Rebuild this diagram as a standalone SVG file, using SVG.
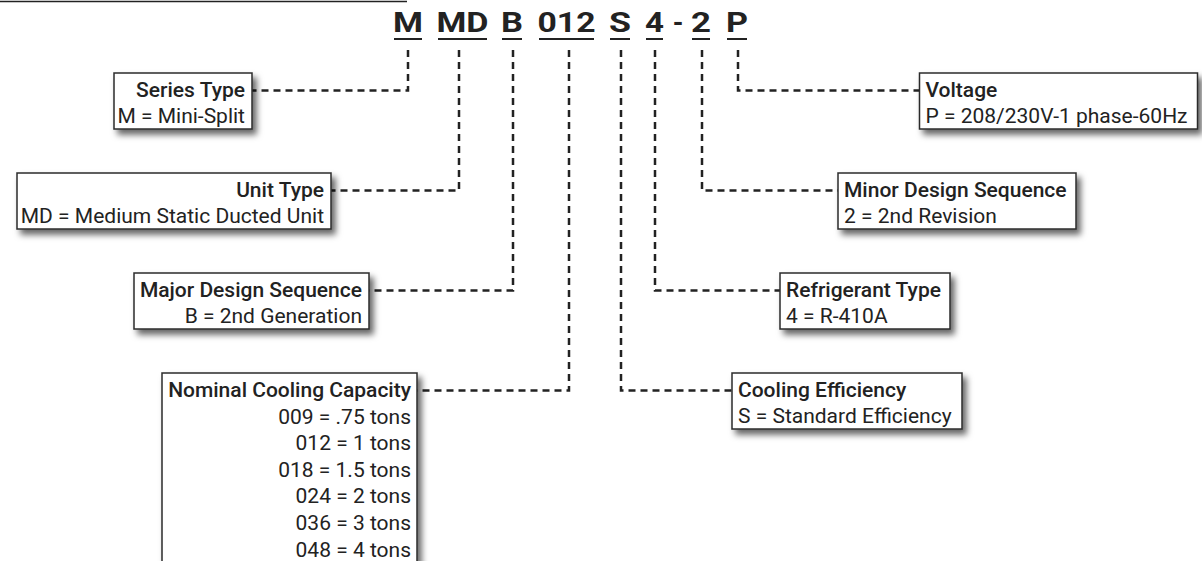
<svg xmlns="http://www.w3.org/2000/svg" width="1202" height="561" viewBox="0 0 1202 561">
<defs>
<filter id="sh" x="-10%" y="-20%" width="130%" height="160%">
<feDropShadow dx="4" dy="5" stdDeviation="3" flood-color="#000" flood-opacity="0.6"/>
</filter>
<style>
.box{fill:#fff;stroke:#2b2b2b;stroke-width:1.5;filter:url(#sh)}
.t{font-family:Roboto,"Liberation Sans",sans-serif;font-size:21px;fill:#222;font-weight:500}
.s{font-family:Roboto,"Liberation Sans",sans-serif;font-size:21px;fill:#222}
.r{text-anchor:end}
.code{font-family:Roboto,"Liberation Sans",sans-serif;font-size:27px;font-weight:700;fill:#222;text-anchor:middle}
.ul{stroke:#222;stroke-width:2}
.c{fill:none;stroke:#222;stroke-width:2.5;stroke-dasharray:7 5}
</style>
</defs>
<rect width="1202" height="561" fill="#fff"/>
<line x1="0" y1="1.5" x2="407" y2="1.5" stroke="#222" stroke-width="1.5"/>
<g id="code">
<text class="code" x="408" y="31.7" textLength="30" lengthAdjust="spacingAndGlyphs">M</text>
<text class="code" x="462.5" y="31.7" textLength="52" lengthAdjust="spacingAndGlyphs">MD</text>
<text class="code" x="512" y="31.7" textLength="22" lengthAdjust="spacingAndGlyphs">B</text>
<text class="code" x="566.5" y="31.7" textLength="58" lengthAdjust="spacingAndGlyphs">012</text>
<text class="code" x="620" y="31.7" textLength="22" lengthAdjust="spacingAndGlyphs">S</text>
<text class="code" x="654.5" y="31.7" textLength="19" lengthAdjust="spacingAndGlyphs">4</text>
<text class="code" x="678" y="31.7">-</text>
<text class="code" x="701" y="31.7" textLength="20" lengthAdjust="spacingAndGlyphs">2</text>
<text class="code" x="737" y="31.7" textLength="22" lengthAdjust="spacingAndGlyphs">P</text>
<line class="ul" x1="394" y1="39" x2="422" y2="39"/>
<line class="ul" x1="438" y1="39" x2="487" y2="39"/>
<line class="ul" x1="502" y1="39" x2="522" y2="39"/>
<line class="ul" x1="539" y1="39" x2="594" y2="39"/>
<line class="ul" x1="610" y1="39" x2="630" y2="39"/>
<line class="ul" x1="646" y1="39" x2="663" y2="39"/>
<line class="ul" x1="692" y1="39" x2="710" y2="39"/>
<line class="ul" x1="727" y1="39" x2="747" y2="39"/>
</g>
<g id="connectors">
<path class="c" d="M408,50 V90.5 H252"/>
<path class="c" d="M459,50 V190.5 H331"/>
<path class="c" d="M513,50 V290.5 H369"/>
<path class="c" d="M569,50 V390.5 H417"/>
<path class="c" d="M621,50 V390.5 H732"/>
<path class="c" d="M655,50 V290.5 H780"/>
<path class="c" d="M702,50 V190.5 H838"/>
<path class="c" d="M738,50 V90.5 H919.5"/>
</g>
<g id="series">
<rect class="box" x="114" y="73" width="138" height="56"/>
<text class="t r" x="245" y="96.5">Series Type</text>
<text class="s r" x="245" y="123">M = Mini-Split</text>
</g>
<g id="unit">
<rect class="box" x="17" y="173" width="314" height="56"/>
<text class="t r" x="324" y="196.5">Unit Type</text>
<text class="s r" x="324" y="223">MD = Medium Static Ducted Unit</text>
</g>
<g id="major">
<rect class="box" x="134" y="273" width="235" height="56"/>
<text class="t r" x="362" y="296.5">Major Design Sequence</text>
<text class="s r" x="362" y="323">B = 2nd Generation</text>
</g>
<g id="nominal">
<rect class="box" x="162" y="373" width="255" height="220"/>
<text class="t r" x="411" y="397">Nominal Cooling Capacity</text>
<text class="s r" x="411" y="423.5">009 = .75 tons</text>
<text class="s r" x="411" y="450">012 = 1 tons</text>
<text class="s r" x="411" y="476.7">018 = 1.5 tons</text>
<text class="s r" x="411" y="503.3">024 = 2 tons</text>
<text class="s r" x="411" y="530">036 = 3 tons</text>
<text class="s r" x="411" y="556.7">048 = 4 tons</text>
</g>
<g id="voltage">
<rect class="box" x="919.5" y="73" width="278" height="56"/>
<text class="t" x="925.5" y="96.5">Voltage</text>
<text class="s" x="925.5" y="123">P = 208/230V-1 phase-60Hz</text>
</g>
<g id="minor">
<rect class="box" x="838" y="173" width="238" height="56"/>
<text class="t" x="844" y="196.5">Minor Design Sequence</text>
<text class="s" x="844" y="223">2 = 2nd Revision</text>
</g>
<g id="refrigerant">
<rect class="box" x="780" y="273" width="170" height="56"/>
<text class="t" x="786" y="296.5">Refrigerant Type</text>
<text class="s" x="786" y="323">4 = R-410A</text>
</g>
<g id="efficiency">
<rect class="box" x="732" y="373" width="230" height="56"/>
<text class="t" x="738" y="396.5">Cooling Efficiency</text>
<text class="s" x="738" y="423">S = Standard Efficiency</text>
</g>
</svg>
